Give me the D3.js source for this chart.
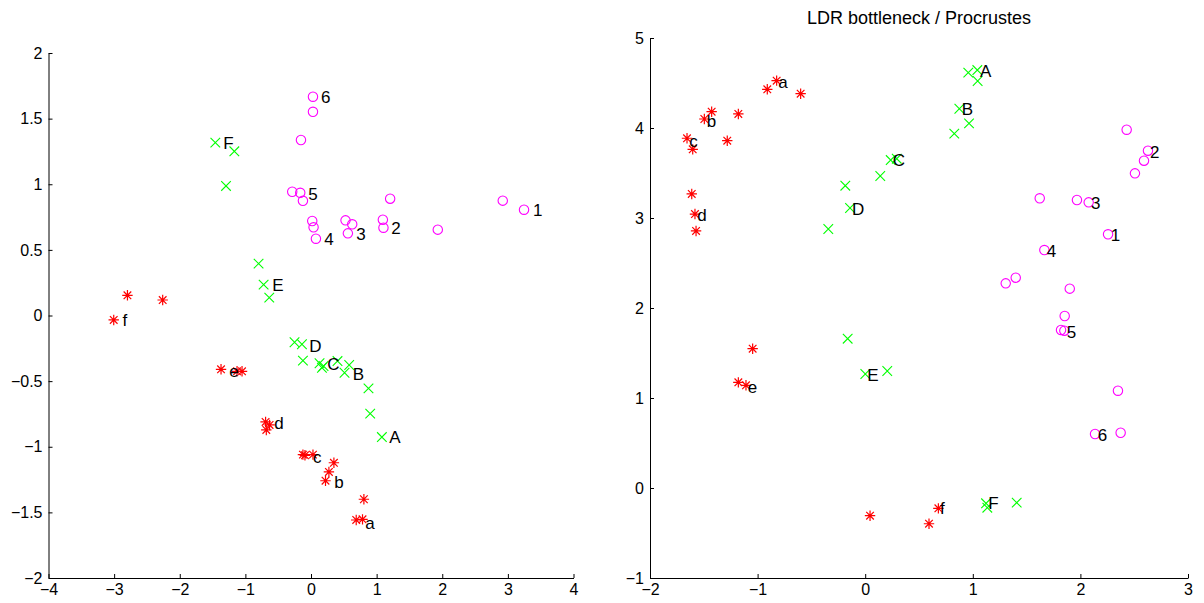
<!DOCTYPE html>
<html><head><meta charset="utf-8">
<script src="https://cdn.jsdelivr.net/npm/d3@7"></script>
<style>
html,body{margin:0;padding:0;background:#fff;}
svg{display:block;font-family:"Liberation Sans",Arial,sans-serif;}
</style></head>
<body>
<svg id="chart" width="1204" height="603"></svg>
<script>
// ---------- LEFT PANEL DATA ----------
const leftXTicks = [-4,-3,-2,-1,0,1,2,3,4];
const leftYTicks = [-2,-1.5,-1,-0.5,0,0.5,1,1.5,2];
const leftCircles = [
  [0.030,1.667],[0.030,1.552],[-0.153,1.337],
  [-0.286,0.943],[-0.164,0.935],[-0.123,0.874],
  [0.019,0.720],[0.039,0.672],[0.075,0.585],
  [0.526,0.725],[0.628,0.695],[0.562,0.626],
  [1.095,0.730],[1.104,0.669],[1.206,0.890],
  [1.932,0.654],[2.922,0.875],[3.246,0.806]
];
const leftCrosses = [
  [-1.458,1.317],[-1.168,1.251],[-1.295,0.987],
  [-0.799,0.395],[-0.722,0.235],[-0.636,0.136],
  [-0.251,-0.204],[-0.138,-0.219],[-0.123,-0.344],
  [0.130,-0.364],[0.167,-0.398],[0.191,-0.385],
  [0.404,-0.347],[0.582,-0.377],[0.511,-0.436],
  [0.876,-0.555],[0.902,-0.748],[1.080,-0.926]
];
const leftStars = [
  [-2.797,0.154],[-2.260,0.118],[-3.006,-0.034],
  [-1.371,-0.410],[-1.127,-0.425],[-1.051,-0.425],
  [-0.692,-0.811],[-0.631,-0.834],[-0.681,-0.872],
  [-0.123,-1.060],[-0.092,-1.065],[0.030,-1.060],
  [0.349,-1.122],[0.273,-1.192],[0.221,-1.259],
  [0.806,-1.400],[0.689,-1.558],[0.785,-1.553]
];
const leftLabels = [
  ["6",0.151,1.665],["5",-0.042,0.923],["4",0.201,0.583],["3",0.689,0.621],
  ["2",1.221,0.669],["1",3.383,0.804],
  ["F",-1.336,1.314],["E",-0.590,0.232],["D",-0.027,-0.230],["C",0.247,-0.370],
  ["B",0.638,-0.446],["A",1.191,-0.926],
  ["f",-2.873,-0.034],["e",-1.245,-0.421],["d",-0.560,-0.819],["c",0.030,-1.078],
  ["b",0.354,-1.269],["a",0.826,-1.579]
];

// ---------- RIGHT PANEL DATA ----------
const rightTitle = "LDR bottleneck / Procrustes";
const rightXTicks = [-2,-1,0,1,2,3];
const rightYTicks = [-1,0,1,2,3,4,5];
const rightCircles = [
  [2.430,3.981],[2.628,3.748],[2.591,3.637],[2.507,3.496],
  [1.622,3.219],[1.968,3.200],[2.077,3.174],
  [2.257,2.819],[1.665,2.644],
  [1.399,2.337],[1.306,2.274],[1.901,2.215],
  [1.854,1.911],[1.820,1.756],[1.851,1.748],
  [2.349,1.081],[2.374,0.614],[2.136,0.600]
];
const rightCrosses = [
  [0.958,4.615],[1.042,4.644],[1.045,4.522],
  [0.875,4.214],[0.965,4.052],[0.828,3.937],
  [0.140,3.467],[0.237,3.644],[0.293,3.659],
  [-0.343,2.878],[-0.185,3.359],[-0.141,3.111],
  [-0.163,1.659],[0.001,1.267],[0.205,1.300],
  [1.123,-0.170],[1.135,-0.219],[1.408,-0.163]
];
const rightStars = [
  [-0.823,4.526],[-0.910,4.430],[-0.600,4.381],
  [-1.427,4.181],[-1.495,4.100],[-1.179,4.156],
  [-1.656,3.886],[-1.603,3.763],[-1.282,3.859],
  [-1.612,3.267],[-1.582,3.044],[-1.572,2.856],
  [-1.046,1.548],[-1.179,1.174],[-1.108,1.141],
  [0.045,-0.308],[0.593,-0.397],[0.680,-0.226]
];
const rightLabels = [
  ["a",-0.808,4.508],["b",-1.473,4.078],["c",-1.635,3.856],["d",-1.560,3.033],
  ["e",-1.092,1.126],["f",0.695,-0.226],
  ["A",1.067,4.637],["B",0.897,4.208],["C",0.256,3.644],["D",-0.123,3.103],
  ["E",0.020,1.256],["F",1.144,-0.163],
  ["1",2.282,2.808],["2",2.647,3.737],["3",2.099,3.163],["4",1.687,2.637],
  ["5",1.873,1.733],["6",2.161,0.589]
];

const svg = d3.select("#chart");
const fmt = v => (v < 0 ? "\u2212" : "") + Math.abs(v);

function panel(cfg) {
  const x = d3.scaleLinear().domain(cfg.xd).range(cfg.xr);
  const y = d3.scaleLinear().domain(cfg.yd).range(cfg.yr);
  const g = svg.append("g");

  const ax = g.append("g").attr("transform", `translate(0,${cfg.yr[0]})`)
    .call(d3.axisBottom(x).tickValues(cfg.xt).tickSizeInner(-4).tickSizeOuter(0).tickPadding(6).tickFormat(fmt));
  const ay = g.append("g").attr("transform", `translate(${cfg.xr[0]},0)`)
    .call(d3.axisLeft(y).tickValues(cfg.yt).tickSizeInner(-4).tickSizeOuter(0).tickPadding(6).tickFormat(fmt));
  [ax, ay].forEach(a => {
    a.selectAll("text").attr("font-size", 16).attr("fill", "#000")
      .attr("font-family", '"Liberation Sans",Arial,sans-serif');
    a.selectAll("path,line").attr("stroke", "#000").attr("stroke-width", 1);
  });

  if (cfg.title) {
    g.append("text").attr("x", (cfg.xr[0] + cfg.xr[1]) / 2).attr("y", 18)
      .attr("text-anchor", "middle").attr("dy", "0.35em")
      .attr("font-size", 18).attr("fill", "#000").text(cfg.title);
  }

  const r = 4.7;
  g.append("g").selectAll("circle").data(cfg.circles).join("circle")
    .attr("cx", d => x(d[0])).attr("cy", d => y(d[1])).attr("r", r)
    .attr("fill", "none").attr("stroke", "#ff00ff").attr("stroke-width", 1.1);

  g.append("g").selectAll("path").data(cfg.crosses).join("path")
    .attr("d", d => {
      const cx = x(d[0]), cy = y(d[1]), s = 4.8;
      return `M${cx-s},${cy-s}L${cx+s},${cy+s}M${cx-s},${cy+s}L${cx+s},${cy-s}`;
    })
    .attr("fill", "none").attr("stroke", "#00ff00").attr("stroke-width", 1.1);

  g.append("g").selectAll("path").data(cfg.stars).join("path")
    .attr("d", d => {
      const cx = x(d[0]), cy = y(d[1]), s = 5.2, t = 3.8;
      return `M${cx-s},${cy}L${cx+s},${cy}M${cx},${cy-s}L${cx},${cy+s}` +
             `M${cx-t},${cy-t}L${cx+t},${cy+t}M${cx-t},${cy+t}L${cx+t},${cy-t}`;
    })
    .attr("fill", "none").attr("stroke", "#ff0000").attr("stroke-width", 1.2);

  g.append("g").selectAll("text").data(cfg.labels).join("text")
    .attr("x", d => x(d[1])).attr("y", d => y(d[2])).attr("dy", "0.36em")
    .attr("font-size", 17).attr("fill", "#000").text(d => d[0]);
}

panel({
  xd: [-4, 4], xr: [48.5, 573.5], yd: [-2, 2], yr: [578, 53],
  xt: leftXTicks, yt: leftYTicks,
  circles: leftCircles, crosses: leftCrosses, stars: leftStars, labels: leftLabels
});
panel({
  xd: [-2, 3], xr: [650, 1188], yd: [-1, 5], yr: [578, 38],
  xt: rightXTicks, yt: rightYTicks, title: rightTitle,
  circles: rightCircles, crosses: rightCrosses, stars: rightStars, labels: rightLabels
});
</script>
</body></html>
